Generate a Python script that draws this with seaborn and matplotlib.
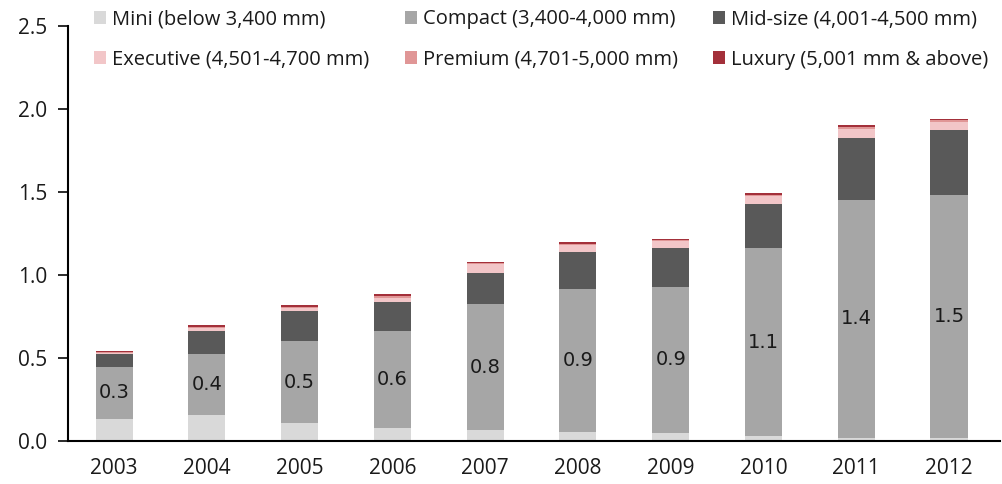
import matplotlib
matplotlib.use("Agg")
import matplotlib.pyplot as plt
from matplotlib.patches import Patch
import pandas as pd
import seaborn as sns

years = [2003, 2004, 2005, 2006, 2007, 2008, 2009, 2010, 2011, 2012]
segments = [
    "Mini (below 3,400 mm)",
    "Compact (3,400-4,000 mm)",
    "Mid-size (4,001-4,500 mm)",
    "Executive (4,501-4,700 mm)",
    "Premium (4,701-5,000 mm)",
    "Luxury (5,001 mm & above)",
]
mini = [0.135, 0.155, 0.11, 0.08, 0.065, 0.055, 0.05, 0.03, 0.015, 0.015]
compact = [0.31, 0.37, 0.49, 0.58, 0.76, 0.86, 0.88, 1.13, 1.44, 1.47]
midsize = [0.08, 0.14, 0.185, 0.18, 0.19, 0.225, 0.235, 0.265, 0.37, 0.39]
executive = [0.004, 0.014, 0.014, 0.022, 0.05, 0.042, 0.038, 0.05, 0.057, 0.05]
premium = [0.006, 0.01, 0.01, 0.011, 0.008, 0.007, 0.008, 0.009, 0.012, 0.01]
luxury = [0.006, 0.008, 0.01, 0.011, 0.008, 0.007, 0.008, 0.009, 0.01, 0.008]
colors = ["#d9d9d9", "#a6a6a6", "#595959", "#f2c6c8", "#e09696", "#a3303a"]

series = [mini, compact, midsize, executive, premium, luxury]
df = pd.DataFrame(
    [(y, seg, v) for seg, vals in zip(segments, series) for y, v in zip(years, vals)],
    columns=["year", "segment", "value"],
)

sns.set_theme(style="white")
plt.rcParams["font.family"] = ["Open Sans", "DejaVu Sans"]

fig = plt.figure(figsize=(10.02, 4.84), dpi=100)
ax = fig.add_axes([0.068, 0.089, 0.93, 0.857])

# histplot stacks the last hue level at the bottom, so reverse the order
sns.histplot(
    data=df, x="year", weights="value", hue="segment",
    hue_order=segments[::-1], palette=dict(zip(segments, colors)),
    multiple="stack", discrete=True, shrink=0.4, alpha=1,
    linewidth=0, legend=False, ax=ax,
)

for y, m, c in zip(years, mini, compact):
    ax.text(y, m + c / 2, f"{c:.1f}", ha="center", va="center",
            fontsize=14, family="DejaVu Sans", color="#1a1a1a")

ax.set_xlim(2003 - 0.496, 2012 + 0.55)
ax.set_ylim(0, 2.5)
ax.set_xticks(years)
ax.set_xticklabels([str(y) for y in years])
ax.set_yticks([0, 0.5, 1.0, 1.5, 2.0, 2.5])
ax.set_yticklabels(["0.0", "0.5", "1.0", "1.5", "2.0", "2.5"])
ax.set_xlabel("")
ax.set_ylabel("")
ax.tick_params(axis="y", length=7, width=1.3, pad=8, labelsize=15, colors="#1a1a1a", left=True)
ax.tick_params(axis="x", length=0, pad=12, labelsize=15, colors="#1a1a1a")
for side in ["top", "right"]:
    ax.spines[side].set_visible(False)
for side in ["left", "bottom"]:
    ax.spines[side].set_color("black")
    ax.spines[side].set_linewidth(1.5)

handles = [Patch(facecolor=c, edgecolor="none") for c in colors]
order = [0, 3, 1, 4, 2, 5]
fig.legend(
    [handles[i] for i in order], [segments[i] for i in order],
    ncol=3, loc="upper left", bbox_to_anchor=(0.076, 1.018),
    frameon=False, fontsize=14.5, handlelength=0.6, handleheight=0.6,
    handletextpad=0.3, columnspacing=1.75, labelspacing=1.0,
    labelcolor="#1a1a1a",
)

fig.savefig("out.png", dpi=100)
